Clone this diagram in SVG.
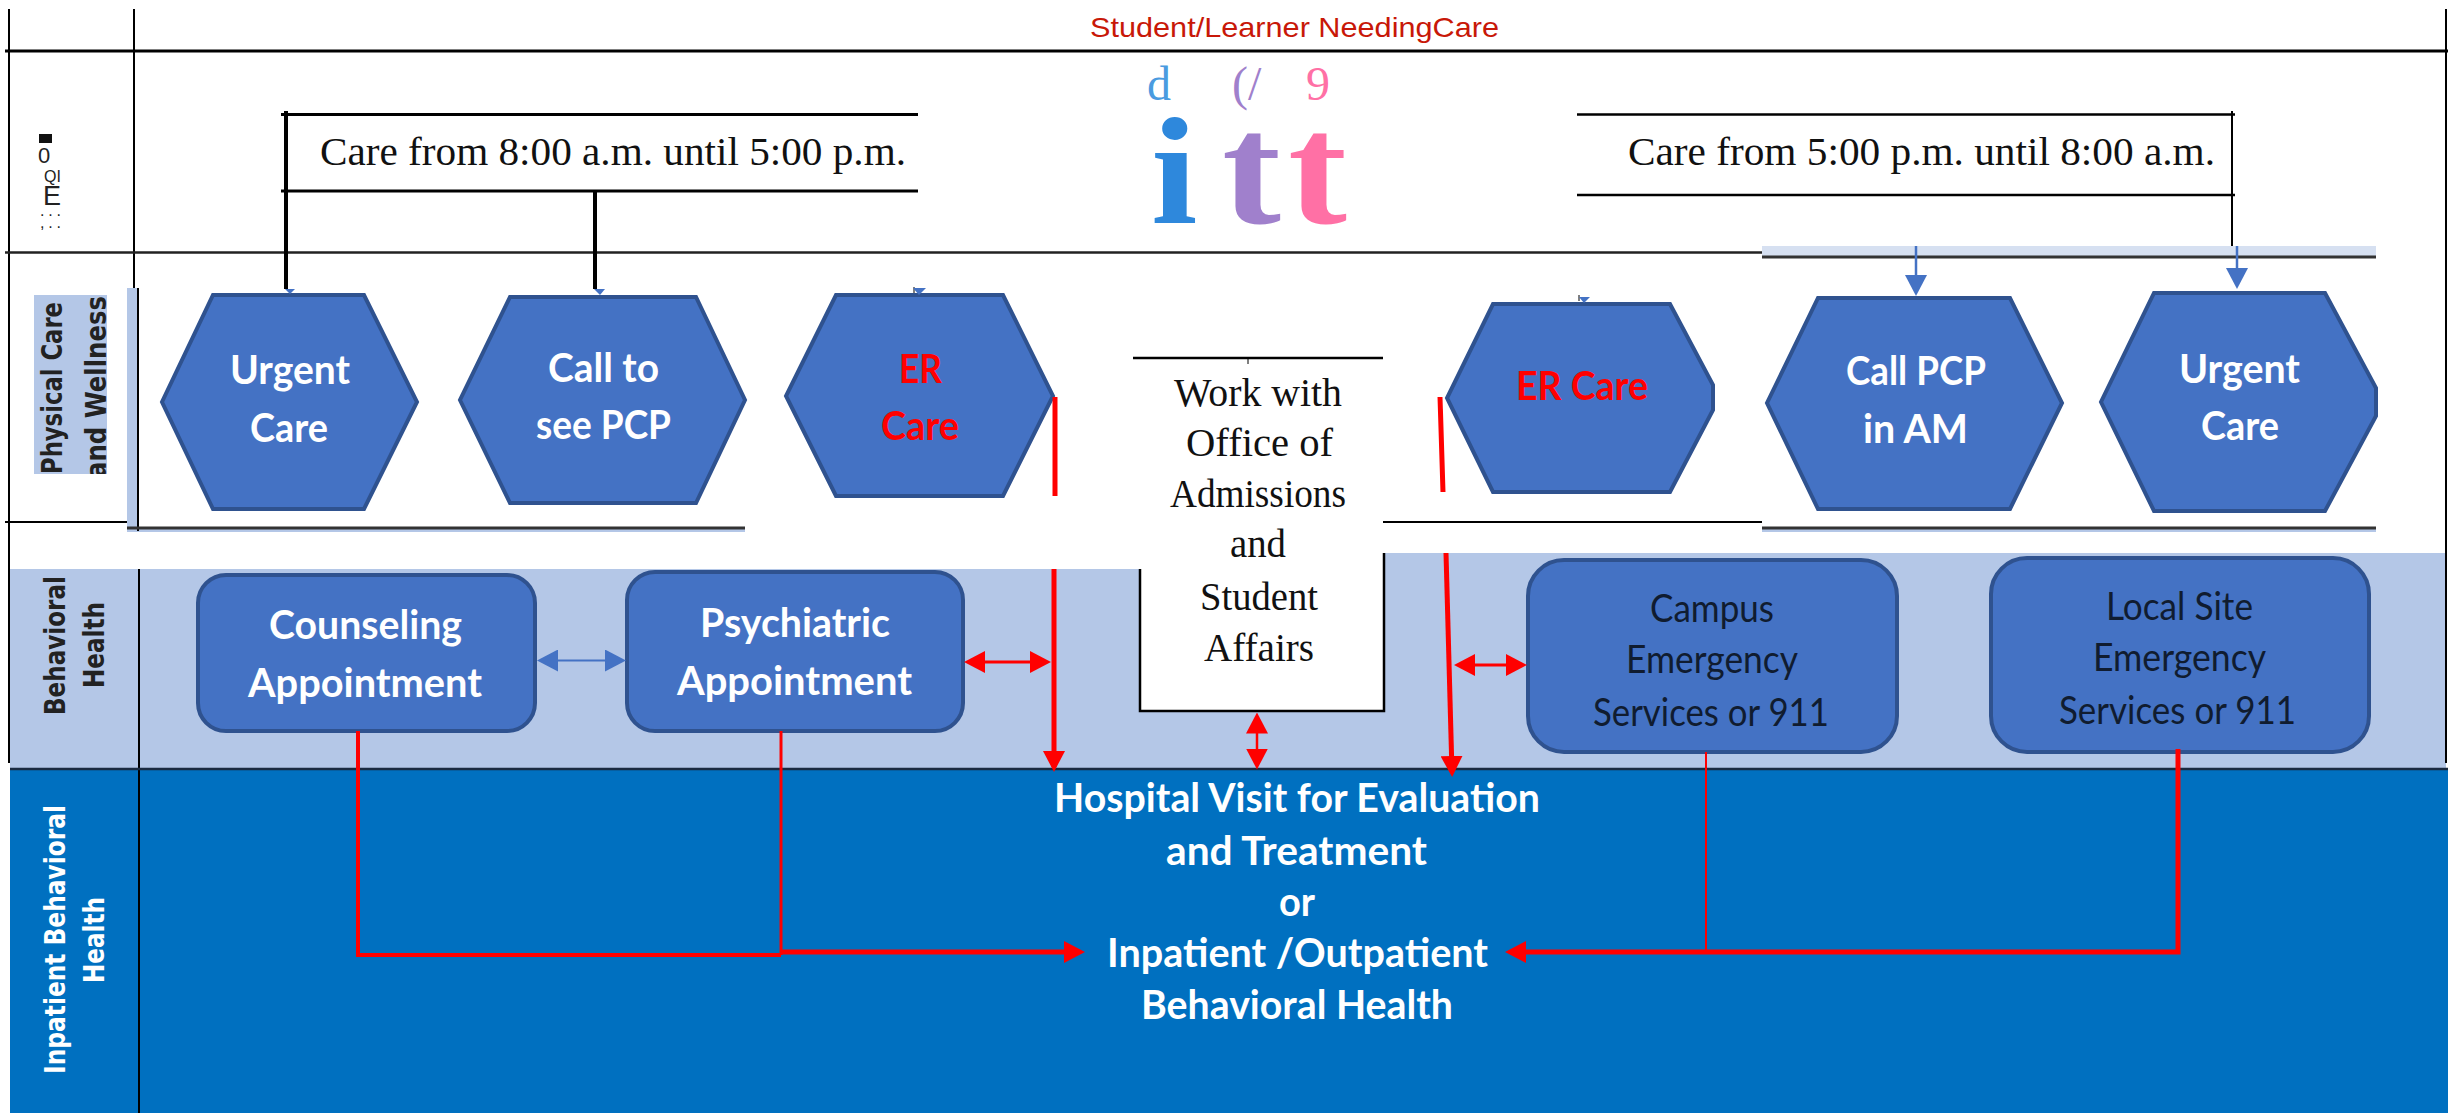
<svg xmlns="http://www.w3.org/2000/svg" width="2448" height="1113" viewBox="0 0 2448 1113">
<style>
.hex{fill:#4472c4;stroke:#2f528f;stroke-width:4}
.rr{fill:#4472c4;stroke:#2f528f;stroke-width:4}
.k{stroke:#000;fill:none}
.r{stroke:#f00;fill:none}
.b{stroke:#4472c4;fill:none}
.wb{font-family:"Lato","Carlito","Liberation Sans",sans-serif;font-weight:700;font-size:41px;fill:#fff;transform:translateY(2px)}
.rb{font-family:"Lato","Carlito","Liberation Sans",sans-serif;font-weight:700;font-size:41px;fill:#f00;transform:translateY(2px)}
.dk{font-family:"Lato","Carlito","Liberation Sans",sans-serif;font-size:38px;fill:#101c30;transform:translateY(2px)}
.se{font-family:"Liberation Serif","Times New Roman",serif;font-size:40px;fill:#111}
.lane{font-family:"DejaVu Sans","Liberation Sans",sans-serif;font-weight:700;font-size:29px}
.logo{font-family:"Liberation Serif",serif}
</style>
<defs>
<marker id="ar" markerUnits="userSpaceOnUse" viewBox="0 0 21 22" refX="16" refY="11" markerWidth="21" markerHeight="22" orient="auto-start-reverse"><path d="M0 0L21 11L0 22Z" fill="#f00"/></marker>
<marker id="ab" markerUnits="userSpaceOnUse" viewBox="0 0 21 22" refX="16" refY="11" markerWidth="21" markerHeight="22" orient="auto-start-reverse"><path d="M0 0L21 11L0 22Z" fill="#4472c4"/></marker>
<clipPath id="physClip"><rect x="34" y="295" width="73" height="179"/></clipPath>
</defs>
<rect width="2448" height="1113" fill="#fff"/>

<g id="bands">
<rect x="10" y="569" width="1375" height="200" fill="#b4c7e7"/>
<rect x="1383" y="553" width="1063" height="216" fill="#b4c7e7"/>
<rect x="10" y="769" width="2438" height="344" fill="#0070c0"/>
<rect x="1762" y="246" width="614" height="11" fill="#d6e0f1"/>
<rect x="127" y="288" width="11" height="243" fill="#b4c7e7"/>
<rect x="127" y="529" width="618" height="3" fill="#b4c7e7"/>
<rect x="1762" y="529" width="614" height="3" fill="#b4c7e7"/>
<rect x="34" y="295" width="73" height="179" fill="#b4c7e7"/>
</g>

<g id="grid" class="k">
<path d="M9 9V763" stroke-width="2"/>
<path d="M134 9V288" stroke-width="2"/>
<path d="M138 288V531" stroke-width="2"/>
<path d="M139 569V1113" stroke-width="2"/>
<path d="M2446 9V763" stroke-width="2"/>
<path d="M5 51H2448" stroke-width="3"/>
<path d="M5 252.500H1762" stroke-width="2.500" stroke="#222"/>
<path d="M1762 257H2376" stroke-width="3" stroke="#333"/>
<path d="M5 522H127" stroke-width="2"/>
<path d="M127 528H745" stroke-width="3" stroke="#333"/>
<path d="M1378 522H1762" stroke-width="2"/>
<path d="M1762 528H2376" stroke-width="3" stroke="#333"/>
<path d="M10 769H2448" stroke-width="2.500" stroke="#1a2a40"/>
</g>

<text id="title" x="1090" y="37" textLength="409" lengthAdjust="spacingAndGlyphs" font-family="Liberation Sans, Arial, sans-serif" font-size="28" fill="#c81808">Student/Learner NeedingCare</text>

<g id="side-marks" font-family="Liberation Sans, Arial, sans-serif" fill="#222">
<rect x="39" y="134" width="13" height="9" fill="#111"/>
<text x="38" y="163" font-size="22">0</text>
<text x="44" y="182" font-size="16">QI</text>
<text x="43" y="205" font-size="27">E</text>
<text x="40" y="216" font-size="16" textLength="21">. . .</text>
<text x="40" y="228" font-size="16" textLength="21">, . .</text>
</g>

<g id="lane-physical" class="lane" clip-path="url(#physClip)" fill="#222">
<text transform="translate(62 474) rotate(-90)" textLength="172" lengthAdjust="spacingAndGlyphs">Physical Care</text>
<text transform="translate(106 478) rotate(-90)" textLength="182" lengthAdjust="spacingAndGlyphs">and Wellness</text>
</g>
<g id="lane-behavioral" class="lane" fill="#222">
<text transform="translate(65 715) rotate(-90)" textLength="139" lengthAdjust="spacingAndGlyphs">Behavioral</text>
<text transform="translate(104 688) rotate(-90)" textLength="86" lengthAdjust="spacingAndGlyphs">Health</text>
</g>
<g id="lane-inpatient" class="lane" fill="#fff">
<text transform="translate(65 1074) rotate(-90)" textLength="269" lengthAdjust="spacingAndGlyphs">Inpatient Behavioral</text>
<text transform="translate(104 983) rotate(-90)" textLength="86" lengthAdjust="spacingAndGlyphs">Health</text>
</g>

<g id="care-day">
<path class="k" stroke-width="3" d="M281 114.500H918M281 191H918"/>
<text class="se" x="320" y="165" textLength="586" lengthAdjust="spacingAndGlyphs">Care from 8:00 a.m. until 5:00 p.m.</text>
</g>
<g id="care-night">
<path class="k" stroke-width="2.500" d="M1577 114.500H2235M1577 195H2235"/>
<text class="se" x="1628" y="165" textLength="587" lengthAdjust="spacingAndGlyphs">Care from 5:00 p.m. until 8:00 a.m.</text>
</g>

<g id="logo" class="logo">
<text x="1147" y="100" font-size="48" fill="#4a9be0">d</text>
<text x="1232" y="100" font-size="48" fill="#a080cc">(/</text>
<text x="1306" y="100" font-size="48" fill="#ff70a5">9</text>
<text transform="translate(1151 223) scale(1.1 1)" font-size="152" font-weight="700" fill="#2e88dc">i</text>
<text transform="translate(1222 223) scale(1.12 1)" font-size="158" font-weight="700" fill="#a080cc">t</text>
<text transform="translate(1288 223) scale(1.12 1)" font-size="158" font-weight="700" fill="#ff70a5">t</text>
</g>

<g id="node-urgent-day">
<polygon class="hex" points="213,295 364,295 417,402 364,509 213,509 162,402"/>
<text class="wb" x="230" y="382" textLength="120" lengthAdjust="spacingAndGlyphs">Urgent</text>
<text class="wb" x="250" y="440" textLength="78" lengthAdjust="spacingAndGlyphs">Care</text>
</g>
<g id="node-call-pcp">
<polygon class="hex" points="510,297 696,297 745,400 696,503 510,503 460,400"/>
<text class="wb" x="548" y="380" textLength="111" lengthAdjust="spacingAndGlyphs">Call to</text>
<text class="wb" x="536" y="437" textLength="135" lengthAdjust="spacingAndGlyphs">see PCP</text>
</g>
<g id="node-er-day">
<polygon class="hex" points="836,295 1003,295 1053,396 1003,496 836,496 786,396"/>
<text class="rb" x="899" y="381" textLength="43" lengthAdjust="spacingAndGlyphs">ER</text>
<text class="rb" x="881" y="438" textLength="78" lengthAdjust="spacingAndGlyphs">Care</text>
</g>
<g id="node-er-night">
<polygon class="hex" points="1493,304 1670,304 1713,385 1713,410 1670,492 1493,492 1447,398"/>
<text class="rb" x="1516" y="398" textLength="132" lengthAdjust="spacingAndGlyphs">ER Care</text>
</g>
<g id="node-call-am">
<polygon class="hex" points="1818,298 2010,298 2062,403 2010,509 1818,509 1767,403"/>
<text class="wb" x="1846" y="383" textLength="140" lengthAdjust="spacingAndGlyphs">Call PCP</text>
<text class="wb" x="1863" y="441" textLength="105" lengthAdjust="spacingAndGlyphs">in AM</text>
</g>
<g id="node-urgent-night">
<polygon class="hex" points="2154,293 2325,293 2376,388 2376,416 2325,511 2154,511 2101,402"/>
<text class="wb" x="2179" y="381" textLength="121" lengthAdjust="spacingAndGlyphs">Urgent</text>
<text class="wb" x="2201" y="438" textLength="78" lengthAdjust="spacingAndGlyphs">Care</text>
</g>

<g id="node-office">
<rect x="1140" y="530" width="244" height="181" fill="#fff"/>
<path class="k" stroke-width="2.500" d="M1140 569V711H1384V553"/>
<rect x="1133" y="358" width="250" height="175" fill="#fff"/>
<path class="k" stroke-width="2.500" d="M1133 358H1383"/>
<g>
<text class="se" x="1174" y="406" textLength="168" lengthAdjust="spacingAndGlyphs">Work with</text>
<text class="se" x="1186" y="456" textLength="147" lengthAdjust="spacingAndGlyphs">Office of</text>
<text class="se" x="1170" y="507" textLength="176" lengthAdjust="spacingAndGlyphs">Admissions</text>
<text class="se" x="1230" y="557" textLength="56" lengthAdjust="spacingAndGlyphs">and</text>
<text class="se" x="1200" y="610" textLength="118" lengthAdjust="spacingAndGlyphs">Student</text>
<text class="se" x="1204" y="661" textLength="110" lengthAdjust="spacingAndGlyphs">Affairs</text>
</g>
</g>

<g id="node-counseling">
<rect class="rr" x="198" y="575" width="337" height="156" rx="28"/>
<text class="wb" x="269" y="637" textLength="193" lengthAdjust="spacingAndGlyphs">Counseling</text>
<text class="wb" x="248" y="695" textLength="234" lengthAdjust="spacingAndGlyphs">Appointment</text>
</g>
<g id="node-psychiatric">
<rect class="rr" x="627" y="572" width="336" height="159" rx="28"/>
<text class="wb" x="700" y="635" textLength="190" lengthAdjust="spacingAndGlyphs">Psychiatric</text>
<text class="wb" x="677" y="693" textLength="235" lengthAdjust="spacingAndGlyphs">Appointment</text>
</g>
<g id="node-campus">
<rect class="rr" x="1528" y="560" width="369" height="192" rx="36"/>
<text class="dk" x="1650" y="620" textLength="124" lengthAdjust="spacingAndGlyphs">Campus</text>
<text class="dk" x="1626" y="671" textLength="172" lengthAdjust="spacingAndGlyphs">Emergency</text>
<text class="dk" x="1593" y="724" textLength="236" lengthAdjust="spacingAndGlyphs">Services or 911</text>
</g>
<g id="node-local">
<rect class="rr" x="1991" y="558" width="378" height="194" rx="36"/>
<text class="dk" x="2106" y="618" textLength="147" lengthAdjust="spacingAndGlyphs">Local Site</text>
<text class="dk" x="2093" y="669" textLength="173" lengthAdjust="spacingAndGlyphs">Emergency</text>
<text class="dk" x="2059" y="722" textLength="237" lengthAdjust="spacingAndGlyphs">Services or 911</text>
</g>

<g id="node-hospital">
<text class="wb" x="1054" y="810" textLength="486" lengthAdjust="spacingAndGlyphs">Hospital Visit for Evaluation</text>
<text class="wb" x="1166" y="863" textLength="261" lengthAdjust="spacingAndGlyphs">and Treatment</text>
<text class="wb" x="1279" y="914" textLength="36" lengthAdjust="spacingAndGlyphs">or</text>
<text class="wb" x="1107" y="965" textLength="381" lengthAdjust="spacingAndGlyphs">Inpatient /Outpatient</text>
<text class="wb" x="1141" y="1017" textLength="312" lengthAdjust="spacingAndGlyphs">Behavioral Health</text>
</g>

<g id="connectors">
<path class="k" stroke-width="4" d="M286 111V289"/>
<path class="k" stroke-width="4" d="M595 191V289"/>
<path class="k" stroke-width="2" d="M2232 111V246"/>
<path class="k" stroke-width="1" d="M1248 358V364M914 287V293M1579 295V301"/>
<path d="M285 289H295L290 294Z" fill="#4472c4"/>
<path d="M594 289H605L600 295Z" fill="#4472c4"/>
<path d="M913 288H926L919 295Z" fill="#4472c4"/>
<path d="M1579 297H1590L1584 303Z" fill="#4472c4"/>
<path class="b" stroke-width="2.500" d="M1916 246V291" marker-end="url(#ab)"/>
<path class="b" stroke-width="2.500" d="M2237 246V284" marker-end="url(#ab)"/>
<path class="b" stroke-width="2" d="M542 660.500H621" marker-start="url(#ab)" marker-end="url(#ab)"/>
<path class="r" stroke-width="5" d="M1055 397V496"/>
<path class="r" stroke-width="5" d="M1440 397L1443 492"/>
<path class="r" stroke-width="5" d="M1054 569V767" marker-end="url(#ar)"/>
<path class="r" stroke-width="5" d="M1446 553L1452 772" marker-end="url(#ar)"/>
<path class="r" stroke-width="3" d="M969 662H1046" marker-start="url(#ar)" marker-end="url(#ar)"/>
<path class="r" stroke-width="3" d="M1459 665H1522" marker-start="url(#ar)" marker-end="url(#ar)"/>
<path class="r" stroke-width="2.500" d="M1257 717.500V764.500" marker-start="url(#ar)" marker-end="url(#ar)"/>
<path class="r" stroke-width="4" d="M358 731V955H781"/>
<path class="r" stroke-width="3" d="M781 731V955"/>
<path class="r" stroke-width="5" d="M781 952H1080" marker-end="url(#ar)"/>
<path class="r" stroke-width="5" d="M2178 749V952H1510" marker-end="url(#ar)"/>
<path class="r" stroke-width="2" d="M1706 752V952"/>
</g>
</svg>
